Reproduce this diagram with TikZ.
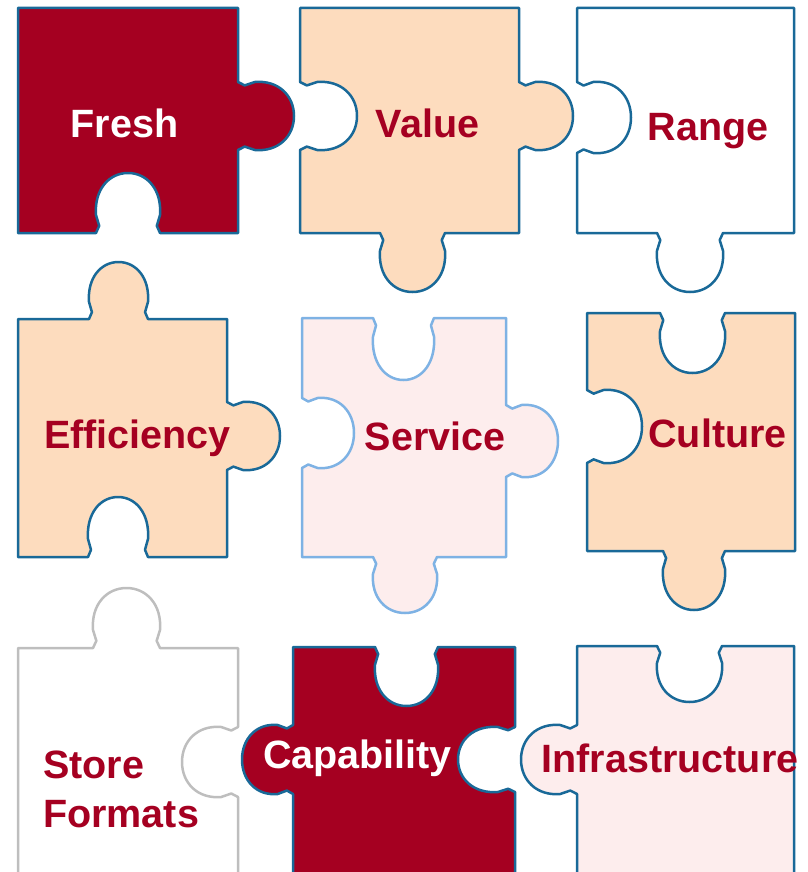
\documentclass[tikz,border=0pt]{standalone}
\usepackage{fontspec}
\setmainfont{Liberation Sans}
\definecolor{dred}{RGB}{165,0,33}
\definecolor{pblue}{RGB}{25,105,152}
\definecolor{lblue}{RGB}{126,178,228}
\definecolor{peach}{RGB}{253,220,190}
\definecolor{lpink}{RGB}{253,237,237}
\definecolor{lgray}{RGB}{190,190,190}
% knob: start x,y ; along-edge vector dx,dy ; normal vector nx,ny (outward for tab, inward for notch)
\newcommand\knob[6]{%
 -- (#1,#2)
 -- ({#1+0.05*(#3)+0.12*(#5)},{#2+0.05*(#4)+0.12*(#6)})
 -- ({#1+0.0*(#3)+0.3*(#5)},{#2+0.0*(#4)+0.3*(#6)})
 .. controls ({#1-0.03*(#3)+0.72*(#5)},{#2-0.03*(#4)+0.72*(#6)}) and ({#1+0.2*(#3)+1.0*(#5)},{#2+0.2*(#4)+1.0*(#6)}) .. ({#1+0.5*(#3)+1.0*(#5)},{#2+0.5*(#4)+1.0*(#6)})
 .. controls ({#1+0.8*(#3)+1.0*(#5)},{#2+0.8*(#4)+1.0*(#6)}) and ({#1+1.03*(#3)+0.72*(#5)},{#2+1.03*(#4)+0.72*(#6)}) .. ({#1+1.0*(#3)+0.3*(#5)},{#2+1.0*(#4)+0.3*(#6)})
 -- ({#1+0.95*(#3)+0.12*(#5)},{#2+0.95*(#4)+0.12*(#6)})
 -- ({#1+(#3)},{#2+(#4)})}
\tikzset{
 piece/.style={line width=2.5pt, line join=round, draw=pblue},
 darkpiece/.style={piece, fill=dred},
 peachpiece/.style={piece, fill=peach},
 whitepiece/.style={piece, fill=white},
 pinkpiece/.style={piece, fill=lpink},
 servpiece/.style={piece, draw=lblue, fill=lpink},
 graypiece/.style={piece, draw=lgray, fill=white},
 lbl/.style={font=\fontsize{39.5}{49}\selectfont\bfseries, inner sep=0pt, anchor=base},
 wlbl/.style={lbl, text=white},
 rlbl/.style={lbl, text=dred}
}
\begin{document}
\begin{tikzpicture}[x=1pt,y=-1pt]
\useasboundingbox (0,0) rectangle (807,872);
\clip (0,0) rectangle (807,872);
% Row 1
\draw[darkpiece] (18,8) -- (238,8) \knob{238}{82}{0}{68}{56}{0} -- (238,233) \knob{160}{233}{-64}{0}{0}{-60} -- (18,233) -- cycle;
\draw[peachpiece] (300,8) -- (519,8) \knob{519}{82}{0}{68}{54}{0} -- (519,233) \knob{445}{233}{-65}{0}{0}{59} -- (300,233) \knob{300}{150}{0}{-68}{57}{0} -- cycle;
\draw[whitepiece] (577,8) -- (794,8) -- (794,233) \knob{723}{233}{-66}{0}{0}{59} -- (577,233) \knob{577}{153}{0}{-71}{54}{0} -- cycle;
% Row 2
\draw[peachpiece] (18,319) \knob{89}{319}{59}{0}{0}{-57} -- (227,319) \knob{227}{402}{0}{68}{53}{0} -- (227,557) \knob{148}{557}{-60}{0}{0}{-60} -- (18,557) -- cycle;
\draw[servpiece] (302,318) \knob{373}{318}{61}{0}{0}{62} -- (506,318) \knob{506}{405}{0}{72}{52}{0} -- (506,557) \knob{437}{557}{-64}{0}{0}{56} -- (302,557) \knob{302}{468}{0}{-70}{52}{0} -- cycle;
\draw[peachpiece] (587,313) \knob{660}{313}{65}{0}{0}{60} -- (795,313) -- (795,551) \knob{725}{551}{-62}{0}{0}{59} -- (587,551) \knob{587}{463}{0}{-73}{55}{0} -- cycle;
% Row 3
\draw[graypiece] (18,648) \knob{93}{648}{67}{0}{0}{-60} -- (238,648) \knob{238}{727}{0}{70}{-56}{0} -- (238,890) -- (18,890) -- cycle;
\draw[darkpiece] (293,647) \knob{375}{647}{63}{0}{0}{59} -- (515,647) \knob{515}{727}{0}{65}{-57}{0} -- (515,890) -- (293,890) \knob{293}{794}{0}{-69}{-51}{0} -- cycle;
\draw[pinkpiece] (577,646) \knob{657}{646}{65}{0}{0}{56} -- (794,646) -- (794,890) -- (577,890) \knob{577}{794}{0}{-69}{-56}{0} -- cycle;
% Labels
\node[wlbl] (fresh) at (124.5,138) {Fresh};
\node[rlbl] (value) at (427.5,138) {Value};
\node[rlbl] (range) at (708,140) {Range};
\node[rlbl] (eff) at (137.5,448) {Efficiency};
\node[rlbl] (serv) at (435,450) {Service};
\node[rlbl] (cult) at (717.5,447) {Culture};
\node[rlbl, anchor=base west] (store) at (43,778) {Store};
\node[rlbl, anchor=base west] (formats) at (43,827) {Formats};
\node[wlbl] (cap) at (357.5,768) {Capability};
\node[rlbl] (infra) at (670,772) {Infrastructure};
\end{tikzpicture}
\end{document}
